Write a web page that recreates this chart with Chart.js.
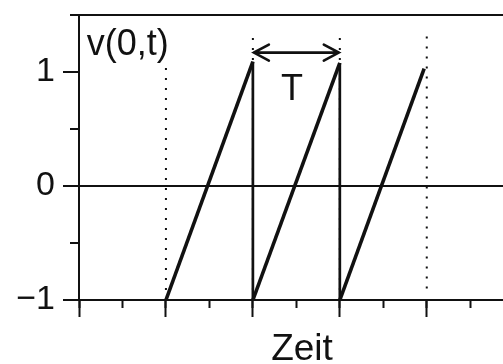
<!DOCTYPE html>
<html>
<head>
<meta charset="utf-8">
<script src="https://cdn.jsdelivr.net/npm/chart.js@4/dist/chart.umd.min.js"></script>
<style>
  html, body { margin: 0; padding: 0; background: #fff; overflow: hidden; width: 503px; height: 364px; }
  canvas { display: block; }
</style>
</head>
<body>
<canvas id="c" width="525" height="364"></canvas>
<script>
// Sawtooth v(0,t): rises linearly from -1 to 1 over one period T, then drops back
const sawTime  = [1, 2, 2, 3, 3, 3.97];
const sawValue = [-1, 1.09, -1, 1.08, -1, 1.03];

// Dotted guides at the period boundaries
const guideTime   = [1, 2, 3, 4];
const guideBottom = [-1, -1, -1, -0.9];
const guideTop    = [1.07, 1.35, 1.35, 1.35];

// Period marker (double arrow) between two guides
const periodFrom = 2;
const periodTo = 3;
const periodLevel = 1.17;

// Text labels inside the plot
const seriesName = 'v(0,t)';
const seriesNameAt = [0.09, 1.24];
const periodName = 'T';
const periodNameAt = [2.45, 0.84];

// Axis ranges and tick labels
const yTickValues = [-1, 0, 1];
const yTickLabels = ['\u22121', '0', '1'];
const xTitle = 'Zeit';
const yMin = -1, yMax = 1.5;
const xMin = 0, xMax = 5.13;

const ink = '#111';
const family = "'Liberation Sans', Arial, Helvetica, sans-serif";
const clear = 'rgba(0,0,0,0)';

const datasets = guideTime.map((t, i) => ({
  data: [{ x: t, y: guideBottom[i] }, { x: t, y: guideTop[i] }],
  borderColor: ink,
  borderWidth: 2,
  borderDash: [2, 8],
  pointRadius: 0,
  order: 2,
  xAxisID: 'x',
  yAxisID: 'y'
}));

datasets.push({
  data: sawTime.map((t, i) => ({ x: t, y: sawValue[i] })),
  borderColor: ink,
  borderWidth: 3.5,
  pointRadius: 0,
  tension: 0,
  order: 1,
  xAxisID: 'x',
  yAxisID: 'y',
  segment: {
    // the instantaneous drops are drawn a little thinner than the ramps
    borderWidth: c => (c.p0.parsed.x === c.p1.parsed.x ? 2.7 : 3.6)
  }
});

// Fixed axis sizes; the label overhang padding is dropped so the plot area keeps its place
const fixSize = (w, h) => s => {
  if (w !== null) s.width = w;
  if (h !== null) s.height = h;
  s.paddingTop = 0; s.paddingBottom = 0; s.paddingLeft = 0; s.paddingRight = 0;
};

// Draws the in-plot texts and the period arrow in data coordinates
const annotate = {
  id: 'annotate',
  afterDatasetsDraw(chart) {
    const { ctx } = chart;
    const x = chart.scales.x, y = chart.scales.y;
    ctx.save();
    ctx.fillStyle = ink;
    ctx.strokeStyle = ink;
    ctx.font = `36px ${family}`;
    ctx.textBaseline = 'middle';

    ctx.textAlign = 'left';
    ctx.fillText(seriesName, x.getPixelForValue(seriesNameAt[0]), y.getPixelForValue(seriesNameAt[1]));
    ctx.textAlign = 'center';
    ctx.fillText(periodName, x.getPixelForValue(periodNameAt[0]), y.getPixelForValue(periodNameAt[1]));

    const x0 = x.getPixelForValue(periodFrom) + 1;
    const x1 = x.getPixelForValue(periodTo) - 1;
    const ya = y.getPixelForValue(periodLevel);
    const head = 15, spread = 8;
    ctx.lineWidth = 2.6;
    ctx.lineCap = 'round';
    ctx.lineJoin = 'miter';
    ctx.beginPath();
    ctx.moveTo(x0, ya); ctx.lineTo(x1, ya);
    ctx.moveTo(x0 + head, ya - spread); ctx.lineTo(x0, ya); ctx.lineTo(x0 + head, ya + spread);
    ctx.moveTo(x1 - head, ya - spread); ctx.lineTo(x1, ya); ctx.lineTo(x1 - head, ya + spread);
    ctx.stroke();
    ctx.restore();
  }
};

new Chart(document.getElementById('c'), {
  type: 'line',
  data: { datasets },
  options: {
    responsive: false,
    animation: false,
    events: [],
    layout: { padding: { top: 15, left: 0, right: 0, bottom: 0 }, autoPadding: false },
    plugins: { legend: { display: false }, tooltip: { enabled: false } },
    scales: {
      x: {
        type: 'linear', position: 'bottom', min: xMin, max: xMax, weight: 1,
        ticks: { display: false, stepSize: 1, includeBounds: false, autoSkip: false },
        grid: { drawOnChartArea: false, tickLength: 17, tickWidth: 2, tickColor: ink },
        border: { display: true, color: ink, width: 2 },
        title: { display: true, text: xTitle, color: ink, font: { family, size: 37, lineHeight: 1 }, padding: { top: 0, bottom: -4 } },
        afterFit: fixSize(null, 64)
      },
      xMinor: {
        type: 'linear', position: 'bottom', min: xMin, max: xMax, weight: 0,
        ticks: { display: false, stepSize: 0.5, includeBounds: false, autoSkip: false },
        grid: { drawOnChartArea: false, tickLength: 8, tickWidth: 2, tickColor: ink },
        border: { display: false },
        afterFit: fixSize(null, 0)
      },
      y: {
        type: 'linear', position: 'left', min: yMin, max: yMax, weight: 1,
        ticks: {
          stepSize: 1, includeBounds: false, autoSkip: false, padding: 8, color: ink,
          font: { family, size: 34 },
          callback: v => { const i = yTickValues.indexOf(v); return i < 0 ? '' : yTickLabels[i]; }
        },
        grid: {
          drawOnChartArea: true, lineWidth: 2,
          color: c => (c.tick && Math.abs(c.tick.value) < 1e-9 ? ink : clear),
          tickLength: 16, tickWidth: 2, tickColor: ink
        },
        border: { display: true, color: ink, width: 2 },
        afterFit: fixSize(79, null)
      },
      yMinor: {
        type: 'linear', position: 'left', min: yMin, max: yMax, weight: 0,
        ticks: { display: false, stepSize: 0.5, includeBounds: false, autoSkip: false },
        grid: {
          drawOnChartArea: true, lineWidth: 2,
          color: c => (c.tick && Math.abs(c.tick.value - yMax) < 1e-9 ? ink : clear),
          tickLength: 9, tickWidth: 2, tickColor: ink
        },
        border: { display: false },
        afterFit: fixSize(0, null)
      }
    }
  },
  plugins: [annotate]
});
</script>
</body>
</html>
